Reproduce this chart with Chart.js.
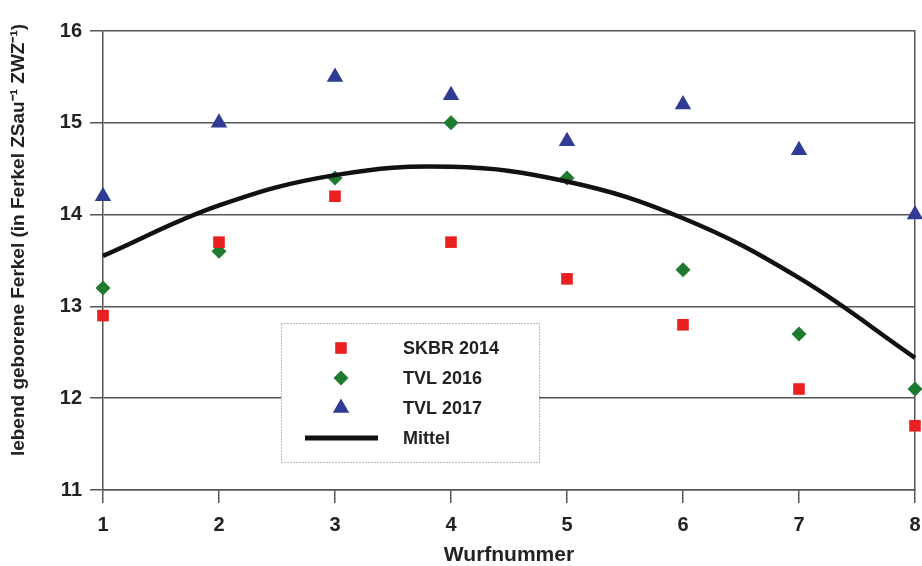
<!DOCTYPE html>
<html>
<head>
<meta charset="utf-8">
<script src="https://cdn.jsdelivr.net/npm/chart.js@4.4.0/dist/chart.umd.min.js"></script>
<style>
    html, body { margin: 0; padding: 0; background: #fff; }
</style>
</head>
<body>
<canvas id="chart" width="922" height="566"></canvas>
<script>
// values
const wurf = [1, 2, 3, 4, 5, 6, 7, 8];
const skbr2014 = [12.9, 13.7, 14.2, 13.7, 13.3, 12.8, 12.1, 11.7];
const tvl2016 = [13.2, 13.6, 14.4, 15.0, 14.4, 13.4, 12.7, 12.1];
const tvl2017 = [14.2, 15.0, 15.5, 15.3, 14.8, 15.2, 14.7, 14.0];
const mittel = [13.55, 14.1, 14.43, 14.52, 14.36, 13.96, 13.31, 12.44];
const yTicks = [11, 12, 13, 14, 15, 16];
const seriesNames = ['SKBR 2014', 'TVL 2016', 'TVL 2017', 'Mittel'];
const yTitle = 'lebend geborene Ferkel (in Ferkel ZSau\u207B\u00B9 ZWZ\u207B\u00B9)';

const FONT = '"Liberation Sans", Arial, sans-serif';
const toPoints = values => values.map((v, i) => ({ x: wurf[i], y: v }));

function drawMarker(ctx, style, x, y, r, color) {
    ctx.save();
    ctx.fillStyle = color;
    ctx.beginPath();
    if (style === 'rect') {
        const s = Math.SQRT1_2 * r;
        ctx.rect(x - s, y - s, 2 * s, 2 * s);
    } else if (style === 'rectRot') {
        ctx.moveTo(x, y - r);
        ctx.lineTo(x + r, y);
        ctx.lineTo(x, y + r);
        ctx.lineTo(x - r, y);
    } else {
        ctx.moveTo(x, y - r);
        ctx.lineTo(x + r * 0.866, y + r / 2);
        ctx.lineTo(x - r * 0.866, y + r / 2);
    }
    ctx.closePath();
    ctx.fill();
    ctx.restore();
}

// legend box inside the plot + rotated y title
const boxLegend = {
    id: 'boxLegend',
    afterDraw(chart) {
        const ctx = chart.ctx;
        const bx = 281, by = 323, bw = 258, bh = 139;
        ctx.save();
        ctx.fillStyle = '#fff';
        ctx.fillRect(bx, by, bw, bh);
        ctx.strokeStyle = '#777';
        ctx.lineWidth = 1;
        ctx.setLineDash([1, 2]);
        ctx.strokeRect(bx + 0.5, by + 0.5, bw, bh);
        ctx.setLineDash([]);
        ctx.font = 'bold 18px ' + FONT;
        ctx.textBaseline = 'middle';
        chart.data.datasets.forEach((ds, i) => {
            const rowY = 348 + i * 30;
            if (ds.showLine) {
                ctx.strokeStyle = ds.borderColor;
                ctx.lineWidth = 5;
                ctx.beginPath();
                ctx.moveTo(305, rowY);
                ctx.lineTo(378, rowY);
                ctx.stroke();
            } else {
                drawMarker(ctx, ds.pointStyle, 341, rowY, ds.pointRadius, ds.backgroundColor);
            }
            ctx.fillStyle = '#222';
            ctx.fillText(ds.label, 403, rowY + 1);
        });

        ctx.translate(19, 240);
        ctx.rotate(-Math.PI / 2);
        ctx.textAlign = 'center';
        ctx.font = 'bold 19px ' + FONT;
        ctx.fillStyle = '#222';
        ctx.fillText(yTitle, 0, 0);
        ctx.restore();
    }
};

new Chart(document.getElementById('chart'), {
    type: 'scatter',
    data: {
        datasets: [
            {
                label: seriesNames[0],
                data: toPoints(skbr2014),
                pointStyle: 'rect',
                pointRadius: 8.2,
                backgroundColor: '#e8201f',
                borderWidth: 0,
                clip: false,
                order: 2
            },
            {
                label: seriesNames[1],
                data: toPoints(tvl2016),
                pointStyle: 'rectRot',
                pointRadius: 7.5,
                backgroundColor: '#1f7a2f',
                borderWidth: 0,
                clip: false,
                order: 2
            },
            {
                label: seriesNames[2],
                data: toPoints(tvl2017),
                pointStyle: 'triangle',
                pointRadius: 9.5,
                backgroundColor: '#2f3b95',
                borderWidth: 0,
                clip: false,
                order: 2
            },
            {
                label: seriesNames[3],
                data: toPoints(mittel),
                showLine: true,
                borderColor: '#111',
                borderWidth: 4.5,
                pointRadius: 0,
                tension: 0.4,
                clip: false,
                order: 1
            }
        ]
    },
    options: {
        responsive: false,
        animation: false,
        layout: { autoPadding: false, padding: { left: 0, right: 7, top: 31, bottom: 0 } },
        plugins: {
            legend: { display: false },
            tooltip: { enabled: false }
        },
        scales: {
            x: {
                type: 'linear',
                min: 1,
                max: 8,
                afterBuildTicks: axis => { axis.ticks = wurf.map(v => ({ value: v })); },
                afterFit: axis => {
                    axis.height = 76;
                    axis.paddingLeft = 0;
                    axis.paddingRight = 0;
                },
                grid: { drawOnChartArea: false, drawTicks: true, tickLength: 13, color: '#555', lineWidth: 1.5 },
                border: { display: true, color: '#555', width: 1.5 },
                ticks: { padding: 10, color: '#222', font: { family: FONT, size: 20, weight: 'bold' } },
                title: {
                    display: true,
                    text: 'Wurfnummer',
                    color: '#222',
                    padding: { top: 0, bottom: 0 },
                    font: { family: FONT, size: 21, weight: 'bold', lineHeight: 1 }
                }
            },
            y: {
                min: 11,
                max: 16,
                afterBuildTicks: axis => { axis.ticks = yTicks.map(v => ({ value: v })); },
                afterFit: axis => {
                    axis.width = 103;
                    axis.paddingTop = 0;
                    axis.paddingBottom = 0;
                },
                grid: { color: '#555', lineWidth: 1.5, tickLength: 13 },
                border: { display: true, color: '#555', width: 1.5 },
                ticks: { padding: 8, color: '#222', font: { family: FONT, size: 20, weight: 'bold' } }
            },
            yRight: {
                position: 'right',
                min: 11,
                max: 16,
                afterFit: axis => { axis.width = 0; },
                grid: { drawOnChartArea: false, drawTicks: false },
                border: { display: true, color: '#555', width: 1.5 },
                ticks: { display: false }
            }
        }
    },
    plugins: [boxLegend]
});
</script>
</body>
</html>
